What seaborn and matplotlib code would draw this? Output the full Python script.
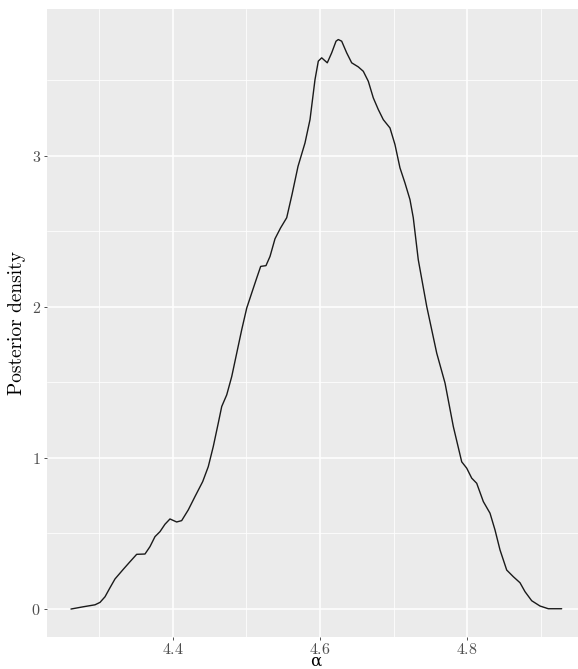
import matplotlib
matplotlib.use("Agg")
import matplotlib.pyplot as plt
import seaborn as sns
import pandas as pd
from matplotlib.ticker import FixedLocator

# Posterior density of alpha
alpha = [4.2612, 4.2780, 4.2939, 4.3007, 4.3075, 4.3143, 4.3211, 4.3324, 4.3415, 4.3506,
         4.3619, 4.3687, 4.3755, 4.3823, 4.3891, 4.3959, 4.4050, 4.4118, 4.4208, 4.4299,
         4.4404, 4.4480, 4.4548, 4.4616, 4.4663, 4.4731, 4.4799, 4.4867, 4.4935, 4.5003,
         4.5071, 4.5139, 4.5193, 4.5265, 4.5320, 4.5388, 4.5463, 4.5547, 4.5619, 4.5701,
         4.5796, 4.5864, 4.5932, 4.5977, 4.6023, 4.6099, 4.6159, 4.6218, 4.6249, 4.6295,
         4.6363, 4.6431, 4.6521, 4.6589, 4.6657, 4.6725, 4.6793, 4.6861, 4.6952, 4.7020,
         4.7088, 4.7156, 4.7224, 4.7269, 4.7337, 4.7452, 4.7588, 4.7701, 4.7814, 4.7928,
         4.7996, 4.8064, 4.8132, 4.8222, 4.8313, 4.8381, 4.8449, 4.8540, 4.8630, 4.8721,
         4.8789, 4.8880, 4.8993, 4.9106, 4.9288]
density = [0.000, 0.015, 0.028, 0.044, 0.081, 0.141, 0.199, 0.263, 0.313, 0.362,
           0.364, 0.413, 0.479, 0.512, 0.561, 0.596, 0.576, 0.585, 0.656, 0.744,
           0.843, 0.942, 1.075, 1.230, 1.340, 1.417, 1.538, 1.693, 1.848, 1.991,
           2.091, 2.190, 2.267, 2.272, 2.333, 2.450, 2.521, 2.589, 2.742, 2.929,
           3.084, 3.238, 3.503, 3.625, 3.647, 3.614, 3.680, 3.757, 3.768, 3.757,
           3.680, 3.614, 3.587, 3.558, 3.492, 3.382, 3.305, 3.238, 3.183, 3.073,
           2.919, 2.819, 2.709, 2.589, 2.311, 2.002, 1.693, 1.495, 1.207, 0.974,
           0.932, 0.866, 0.832, 0.711, 0.634, 0.523, 0.391, 0.258, 0.214, 0.174,
           0.115, 0.055, 0.020, 0.002, 0.002]

x_major = [4.4, 4.6, 4.8]
x_minor = [4.3, 4.5, 4.7, 4.9]
y_major = [0, 1, 2, 3]
y_minor = [0.5, 1.5, 2.5, 3.5]
x_label = r"$\mathrm{\alpha}$"
y_label = "Posterior density"

df = pd.DataFrame({"alpha": alpha, "density": density})

sns.set_theme(style="darkgrid")
plt.rcParams["font.family"] = ["cmr10", "DejaVu Serif"]
plt.rcParams["mathtext.fontset"] = "cm"

fig = plt.figure(figsize=(5.78, 6.69), dpi=100)
ax = fig.add_axes([47 / 578, 1 - 637 / 669, 1 - 47 / 578, (637 - 9) / 669])
ax.set_facecolor("#EBEBEB")

sns.lineplot(data=df, x="alpha", y="density", ax=ax, color="#1a1a1a",
             linewidth=1.0, estimator=None, sort=False)

ax.set_xlim(4.2286, 4.951)
ax.set_ylim(-0.185, 3.97)

ax.xaxis.set_major_locator(FixedLocator(x_major))
ax.xaxis.set_minor_locator(FixedLocator(x_minor))
ax.yaxis.set_major_locator(FixedLocator(y_major))
ax.yaxis.set_minor_locator(FixedLocator(y_minor))
ax.set_xticklabels([f"${v:.1f}$" for v in x_major])
ax.set_yticklabels([f"${v}$" for v in y_major])

ax.grid(which="major", color="white", linewidth=1.1)
ax.grid(which="minor", color="white", linewidth=0.55)
ax.set_axisbelow(True)
for s in ax.spines.values():
    s.set_visible(False)

ax.tick_params(axis="both", which="major", length=2.5, width=0.6, color="#333333",
               labelcolor="#4D4D4D", labelsize=11.5, pad=2, direction="out")
ax.tick_params(axis="x", which="major", pad=1)
ax.tick_params(axis="both", which="minor", length=0)
ax.tick_params(axis="x", which="major", bottom=True)
ax.tick_params(axis="y", which="major", left=True)

ax.set_xlabel(x_label, fontsize=12, color="black", math_fontfamily="dejavuserif",
              va="baseline")
ax.xaxis.set_label_coords(316 / 578, 3 / 669, transform=fig.transFigure)
ax.set_ylabel(y_label, fontsize=14, color="black", labelpad=4)

fig.savefig("out.png", dpi=100)
